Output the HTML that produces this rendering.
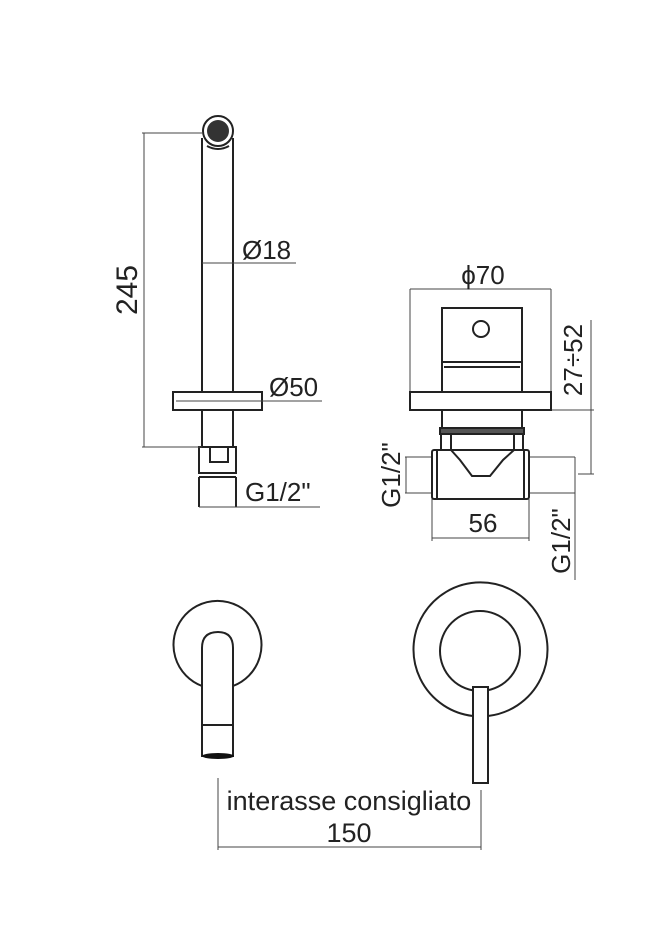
<!DOCTYPE html>
<html><head><meta charset="utf-8"><style>
html,body{margin:0;padding:0;background:#fff;}
svg{display:block;}
text{font-family:"Liberation Sans",sans-serif;fill:#222;}
</style></head><body>
<svg width="667" height="950" viewBox="0 0 667 950" xmlns="http://www.w3.org/2000/svg">
<g fill="none" stroke="#222" stroke-width="2">
  <circle cx="218" cy="131" r="15"/>
  <line x1="202" y1="138" x2="202" y2="447"/>
  <line x1="233" y1="138" x2="233" y2="447"/>
  <path d="M207 146 Q218 152 229 146"/>
  <rect x="173" y="392" width="89" height="18" fill="#fff"/>
  <rect x="199" y="447" width="37" height="26"/>
  <rect x="210" y="447" width="18" height="15"/>
  <line x1="199" y1="477" x2="199" y2="507"/>
  <line x1="236" y1="477" x2="236" y2="507"/>
  <line x1="199" y1="477" x2="236" y2="477"/>
</g>
<circle cx="218" cy="131" r="11" fill="#333"/>
<g stroke="#444" stroke-width="1" fill="none">
  <line x1="142" y1="133" x2="202" y2="133"/>
  <line x1="142" y1="447" x2="202" y2="447"/>
  <line x1="144" y1="133" x2="144" y2="447"/>
  <line x1="202" y1="263" x2="296" y2="263"/>
  <line x1="176" y1="401" x2="322" y2="401"/>
  <line x1="199" y1="507" x2="320" y2="507"/>
</g>
<text x="141" y="290" font-size="30" text-anchor="middle" transform="rotate(-90 141 290)" dy="-4">245</text>
<text x="242" y="259" font-size="26">Ø18</text>
<text x="269" y="396" font-size="26">Ø50</text>
<text x="245" y="501" font-size="26">G1/2"</text>

<g stroke="#444" stroke-width="1" fill="none">
  <line x1="410" y1="289" x2="551" y2="289"/>
  <line x1="410" y1="289" x2="410" y2="392"/>
  <line x1="551" y1="289" x2="551" y2="392"/>
  <line x1="551" y1="410" x2="594" y2="410"/>
  <line x1="591" y1="320" x2="591" y2="474"/>
  <line x1="578" y1="474" x2="594" y2="474"/>
  <line x1="405" y1="457" x2="432" y2="457"/>
  <line x1="405" y1="493" x2="432" y2="493"/>
  <line x1="406" y1="457" x2="406" y2="493"/>
  <line x1="529" y1="457" x2="575" y2="457"/>
  <line x1="529" y1="493" x2="575" y2="493"/>
  <line x1="575" y1="457" x2="575" y2="580"/>
  <line x1="432" y1="499" x2="432" y2="541"/>
  <line x1="529" y1="499" x2="529" y2="541"/>
  <line x1="432" y1="538" x2="529" y2="538"/>
</g>
<g fill="none" stroke="#222" stroke-width="2">
  <rect x="442" y="308" width="80" height="54"/>
  <circle cx="481" cy="329" r="8"/>
  <line x1="442" y1="362" x2="442" y2="392"/>
  <line x1="522" y1="362" x2="522" y2="392"/>
  <line x1="444" y1="367" x2="520" y2="367"/>
  <rect x="410" y="392" width="141" height="18"/>
  <line x1="442" y1="410" x2="442" y2="428"/>
  <line x1="522" y1="410" x2="522" y2="428"/>
  <rect x="440" y="428" width="84" height="6" fill="#555"/>
  <line x1="441" y1="434" x2="441" y2="450"/>
  <line x1="451" y1="434" x2="451" y2="450"/>
  <line x1="514" y1="434" x2="514" y2="450"/>
  <line x1="523" y1="434" x2="523" y2="450"/>
  <rect x="432" y="450" width="97" height="49" rx="2"/>
  <line x1="437" y1="450" x2="437" y2="499"/>
  <line x1="524" y1="450" x2="524" y2="499"/>
  <path d="M451 450 L460 460 L472 476 L490 476 L503 460 L514 450"/>
</g>
<text x="483" y="284" font-size="26" text-anchor="middle">ϕ70</text>
<text x="588" y="360" font-size="26" text-anchor="middle" transform="rotate(-90 588 360)" dy="-6">27÷52</text>
<text x="483" y="532" font-size="26" text-anchor="middle">56</text>
<text x="400" y="475" font-size="26" text-anchor="middle" transform="rotate(-90 400 475)">G1/2"</text>
<text x="570" y="541" font-size="26" text-anchor="middle" transform="rotate(-90 570 541)">G1/2"</text>

<g fill="none" stroke="#222" stroke-width="2">
  <path d="M202 686 A44 44 0 1 1 233 686"/>
  <path d="M202 757 L202 648 Q202 632 218 632 Q233 632 233 648 L233 757"/>
  <line x1="202" y1="725" x2="233" y2="725"/>
  <path d="M473 716 A67 67 0 1 1 488 716"/>
  <circle cx="480" cy="651" r="40"/>
  <rect x="473" y="687" width="15" height="96" fill="#fff"/>
</g>
<ellipse cx="218" cy="756" rx="16" ry="3" fill="#111"/>
<g stroke="#444" stroke-width="1" fill="none">
  <line x1="218" y1="778" x2="218" y2="850"/>
  <line x1="481" y1="790" x2="481" y2="850"/>
  <line x1="218" y1="847" x2="481" y2="847"/>
</g>
<text x="349" y="810" font-size="27" text-anchor="middle">interasse consigliato</text>
<text x="349" y="842" font-size="27" text-anchor="middle">150</text>
</svg>
</body></html>
